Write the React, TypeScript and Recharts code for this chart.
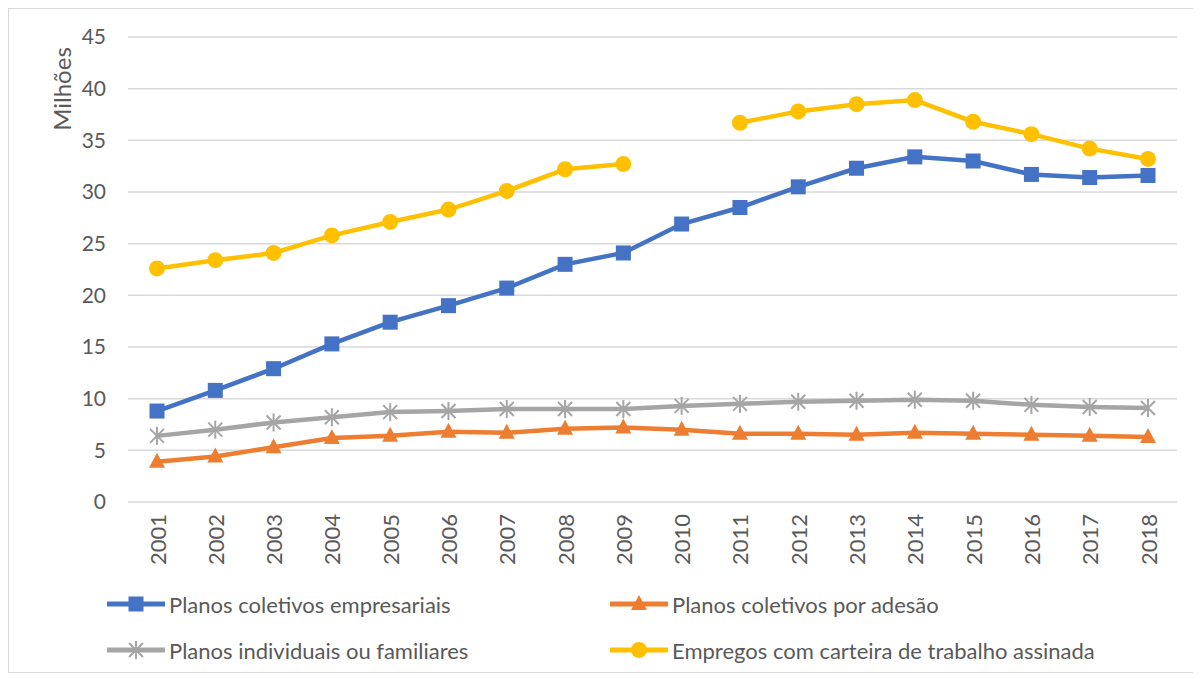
import React from "react";
import { LineChart, Line, XAxis, YAxis, CartesianGrid, Legend } from "recharts";

const YEARS = [
  "2001", "2002", "2003", "2004", "2005", "2006", "2007", "2008", "2009",
  "2010", "2011", "2012", "2013", "2014", "2015", "2016", "2017", "2018",
];
const EMPRESARIAIS = [8.8, 10.8, 12.9, 15.3, 17.4, 19.0, 20.7, 23.0, 24.1, 26.9, 28.5, 30.5, 32.3, 33.4, 33.0, 31.7, 31.4, 31.6];
const ADESAO = [3.9, 4.4, 5.3, 6.2, 6.4, 6.8, 6.7, 7.1, 7.2, 7.0, 6.6, 6.6, 6.5, 6.7, 6.6, 6.5, 6.4, 6.3];
const INDIVIDUAIS = [6.4, 7.0, 7.7, 8.2, 8.7, 8.8, 9.0, 9.0, 9.0, 9.3, 9.5, 9.7, 9.8, 9.9, 9.8, 9.4, 9.2, 9.1];
const EMPREGOS: (number | null)[] = [22.6, 23.4, 24.1, 25.8, 27.1, 28.3, 30.1, 32.2, 32.7, null, 36.7, 37.8, 38.5, 38.9, 36.8, 35.6, 34.2, 33.2];
const Y_TICKS = [0, 5, 10, 15, 20, 25, 30, 35, 40, 45];

const BLUE = "#4472C4";
const ORANGE = "#ED7D31";
const GREY = "#A5A5A5";
const YELLOW = "#FFC000";
const GRID = "#D9D9D9";
const TEXT = "#595959";
const FONT = "Lato, 'Liberation Sans', sans-serif";

const data = YEARS.map((ano, i) => ({
  ano,
  empresariais: EMPRESARIAIS[i],
  adesao: ADESAO[i],
  individuais: INDIVIDUAIS[i],
  empregos: EMPREGOS[i],
}));

type Mark = "square" | "triangle" | "star" | "circle";

function Marker({ kind, cx, cy, color }: { kind: Mark; cx: number; cy: number; color: string }) {
  if (kind === "square") return <rect x={cx - 7.5} y={cy - 7.5} width={15} height={15} fill={color} />;
  if (kind === "triangle")
    return <polygon points={`${cx},${cy - 9} ${cx + 8},${cy + 6} ${cx - 8},${cy + 6}`} fill={color} />;
  if (kind === "circle") return <circle cx={cx} cy={cy} r={8} fill={color} />;
  return (
    <g stroke={color} strokeWidth={2}>
      <line x1={cx - 7} y1={cy - 7} x2={cx + 7} y2={cy + 7} />
      <line x1={cx - 7} y1={cy + 7} x2={cx + 7} y2={cy - 7} />
      <line x1={cx} y1={cy - 9} x2={cx} y2={cy + 9} />
    </g>
  );
}

const dotFor = (kind: Mark, color: string) => (p: any) => {
  if (p.cx == null || p.cy == null || p.value == null) return <g key={p.index} />;
  return <Marker key={p.index} kind={kind} cx={p.cx} cy={p.cy} color={color} />;
};

const SERIES: { key: string; name: string; color: string; kind: Mark }[] = [
  { key: "empresariais", name: "Planos coletivos empresariais", color: BLUE, kind: "square" },
  { key: "adesao", name: "Planos coletivos por adesão", color: ORANGE, kind: "triangle" },
  { key: "individuais", name: "Planos individuais ou familiares", color: GREY, kind: "star" },
  { key: "empregos", name: "Empregos com carteira de trabalho assinada", color: YELLOW, kind: "circle" },
];

function YearTick({ x, y, payload }: any) {
  return (
    <text
      x={x}
      y={y}
      transform={`rotate(-90 ${x} ${y})`}
      textAnchor="end"
      dominantBaseline="central"
      fill={TEXT}
      fontSize={22}
      fontFamily={FONT}
    >
      {payload.value}
    </text>
  );
}

function LegendBox() {
  return (
    <div style={{ position: "relative", height: 90, fontFamily: FONT, fontSize: 22, color: TEXT }}>
      {SERIES.map((s, i) => (
        <div
          key={s.key}
          style={{
            position: "absolute",
            left: i % 2 === 0 ? 98 : 601,
            top: i < 2 ? 9 : 55,
            display: "flex",
            alignItems: "center",
            height: 26,
            whiteSpace: "nowrap",
          }}
        >
          <svg width={58} height={22} style={{ marginRight: 4 }}>
            <line x1={0} y1={11} x2={58} y2={11} stroke={s.color} strokeWidth={5} />
            <Marker kind={s.kind} cx={29} cy={11} color={s.color} />
          </svg>
          <span>{s.name}</span>
        </div>
      ))}
    </div>
  );
}

function AxisTitle({ viewBox }: any) {
  const x = viewBox.x + 52;
  const y = viewBox.y + 52;
  return (
    <text
      x={x}
      y={y}
      transform={`rotate(-90 ${x} ${y})`}
      textAnchor="middle"
      dominantBaseline="central"
      fill={TEXT}
      fontSize={24}
      fontFamily={FONT}
    >
      Milhões
    </text>
  );
}

export default function App() {
  return (
    <div style={{ width: 1184, height: 663, border: `1px solid ${GRID}`, background: "#fff" }}>
      <LineChart width={1184} height={663} data={data} margin={{ top: 28, right: 16, left: 0, bottom: 0 }}>
        <CartesianGrid vertical={false} stroke={GRID} strokeWidth={1.5} />
        <XAxis
          dataKey="ano"
          interval={0}
          height={80}
          padding={{ left: 29, right: 29 }}
          axisLine={false}
          tickLine={false}
          tickMargin={6}
          tick={<YearTick />}
        />
        <YAxis
          domain={[0, 45]}
          ticks={Y_TICKS}
          width={119}
          axisLine={false}
          tickLine={false}
          tickMargin={16}
          tick={{ fill: TEXT, fontSize: 21, fontFamily: FONT }}
          label={<AxisTitle />}
        />
        <Legend verticalAlign="bottom" content={() => <LegendBox />} />
        {SERIES.map((s) => (
          <Line
            key={s.key}
            type="linear"
            dataKey={s.key}
            name={s.name}
            stroke={s.color}
            strokeWidth={4.5}
            dot={dotFor(s.kind, s.color)}
            activeDot={false}
            isAnimationActive={false}
          />
        ))}
      </LineChart>
    </div>
  );
}
